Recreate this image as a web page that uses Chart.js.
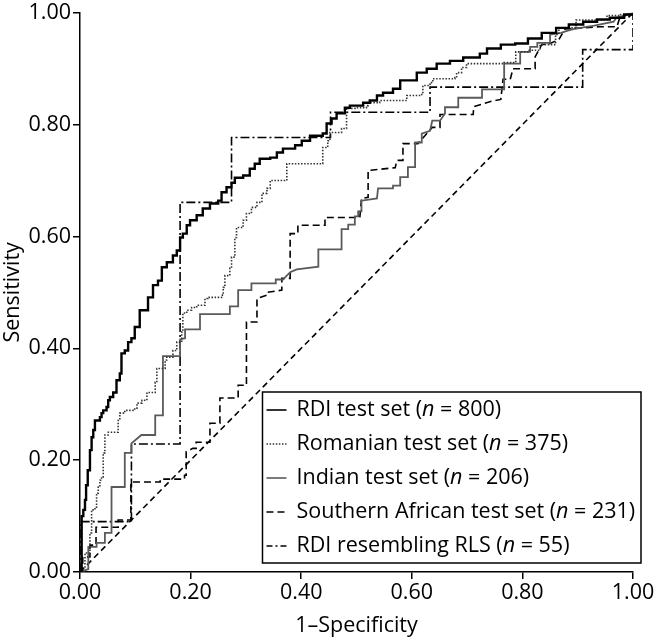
<!DOCTYPE html>
<html>
<head>
<meta charset="utf-8">
<script src="https://cdn.jsdelivr.net/npm/chart.js@4/dist/chart.umd.min.js"></script>
<style>
  html, body { margin: 0; padding: 0; background: #fff; }
  #wrap { width: 656px; height: 640px; position: relative; }
</style>
</head>
<body>
<div id="wrap"><canvas id="c" width="656" height="640"></canvas></div>
<script>
// ---- Data (x = 1-Specificity, y = Sensitivity) ----
const seriesNames = ['RDI test set', 'Romanian test set', 'Indian test set', 'Southern African test set', 'RDI resembling RLS'];
const seriesN = [800, 375, 206, 231, 55];
const tickValues = [0, 0.2, 0.4, 0.6, 0.8, 1.0];

const rdiPoints = [[0,0],[0.003,0.100],[0.006,0.111],[0.009,0.129],[0.011,0.155],[0.014,0.182],[0.018,0.218],[0.021,0.241],[0.024,0.254],[0.027,0.271],[0.036,0.277],[0.039,0.284],[0.042,0.289],[0.048,0.295],[0.051,0.307],[0.054,0.313],[0.060,0.321],[0.066,0.343],[0.072,0.355],[0.075,0.391],[0.081,0.396],[0.087,0.411],[0.093,0.418],[0.099,0.438],[0.108,0.468],[0.123,0.491],[0.132,0.513],[0.141,0.521],[0.148,0.545],[0.157,0.554],[0.168,0.566],[0.175,0.575],[0.181,0.598],[0.186,0.605],[0.193,0.620],[0.199,0.629],[0.211,0.638],[0.222,0.650],[0.235,0.659],[0.250,0.664],[0.256,0.679],[0.265,0.688],[0.274,0.696],[0.280,0.705],[0.295,0.709],[0.307,0.721],[0.316,0.730],[0.325,0.739],[0.344,0.741],[0.356,0.750],[0.367,0.757],[0.389,0.763],[0.401,0.771],[0.416,0.780],[0.439,0.784],[0.446,0.802],[0.455,0.811],[0.464,0.820],[0.479,0.830],[0.488,0.834],[0.512,0.839],[0.524,0.843],[0.537,0.852],[0.548,0.857],[0.566,0.864],[0.579,0.879],[0.593,0.879],[0.609,0.893],[0.627,0.900],[0.645,0.909],[0.669,0.914],[0.693,0.920],[0.723,0.927],[0.736,0.936],[0.761,0.943],[0.787,0.945],[0.810,0.954],[0.835,0.964],[0.861,0.973],[0.884,0.979],[0.910,0.984],[0.935,0.988],[0.958,0.991],[0.984,0.997],[1,1]];

const romanianPoints = [[0,0],[0.005,0.009],[0.009,0.034],[0.018,0.070],[0.021,0.111],[0.027,0.116],[0.030,0.141],[0.033,0.152],[0.036,0.164],[0.039,0.170],[0.042,0.213],[0.045,0.245],[0.051,0.250],[0.069,0.271],[0.072,0.284],[0.081,0.289],[0.099,0.293],[0.103,0.302],[0.112,0.307],[0.121,0.321],[0.136,0.339],[0.139,0.364],[0.154,0.379],[0.157,0.384],[0.168,0.396],[0.175,0.411],[0.184,0.429],[0.186,0.463],[0.193,0.468],[0.202,0.473],[0.211,0.477],[0.226,0.489],[0.231,0.491],[0.256,0.495],[0.259,0.509],[0.262,0.530],[0.271,0.543],[0.274,0.563],[0.280,0.598],[0.283,0.616],[0.295,0.629],[0.301,0.641],[0.310,0.652],[0.320,0.661],[0.329,0.677],[0.338,0.686],[0.344,0.700],[0.374,0.700],[0.374,0.730],[0.434,0.730],[0.439,0.759],[0.448,0.771],[0.452,0.786],[0.473,0.793],[0.482,0.813],[0.482,0.829],[0.500,0.830],[0.518,0.834],[0.521,0.839],[0.542,0.843],[0.588,0.843],[0.591,0.852],[0.618,0.855],[0.620,0.870],[0.633,0.875],[0.638,0.882],[0.678,0.884],[0.681,0.893],[0.690,0.902],[0.699,0.909],[0.767,0.911],[0.788,0.930],[0.810,0.933],[0.832,0.943],[0.860,0.961],[0.866,0.973],[0.897,0.987],[0.946,0.987],[0.953,0.995],[0.976,0.997],[1,1]];

const indianPoints = [[0,0],[0.015,0.005],[0.015,0.045],[0.030,0.045],[0.030,0.052],[0.045,0.052],[0.045,0.070],[0.057,0.070],[0.057,0.152],[0.081,0.152],[0.081,0.213],[0.093,0.213],[0.093,0.230],[0.111,0.245],[0.136,0.245],[0.136,0.280],[0.150,0.280],[0.150,0.386],[0.181,0.386],[0.181,0.416],[0.190,0.418],[0.190,0.434],[0.217,0.434],[0.217,0.461],[0.271,0.461],[0.271,0.475],[0.286,0.475],[0.286,0.504],[0.310,0.504],[0.310,0.516],[0.354,0.516],[0.354,0.523],[0.367,0.523],[0.380,0.536],[0.392,0.541],[0.431,0.546],[0.431,0.577],[0.473,0.577],[0.473,0.613],[0.485,0.613],[0.485,0.621],[0.497,0.621],[0.497,0.636],[0.503,0.636],[0.503,0.645],[0.509,0.645],[0.509,0.664],[0.537,0.668],[0.539,0.686],[0.566,0.686],[0.566,0.691],[0.579,0.691],[0.579,0.706],[0.593,0.706],[0.593,0.724],[0.606,0.724],[0.606,0.768],[0.618,0.768],[0.618,0.784],[0.633,0.789],[0.637,0.807],[0.651,0.807],[0.660,0.820],[0.660,0.831],[0.684,0.831],[0.684,0.848],[0.727,0.848],[0.727,0.863],[0.767,0.863],[0.767,0.909],[0.796,0.909],[0.796,0.930],[0.814,0.930],[0.814,0.939],[0.827,0.939],[0.827,0.946],[0.850,0.946],[0.850,0.961],[0.870,0.964],[0.882,0.968],[0.894,0.971],[0.930,0.977],[0.965,0.984],[0.970,0.991],[1,1]];

const southernAfricanPoints = [[0,0],[0.005,0],[0.005,0.027],[0.018,0.027],[0.018,0.048],[0.029,0.048],[0.029,0.080],[0.069,0.080],[0.069,0.093],[0.092,0.093],[0.092,0.161],[0.145,0.161],[0.145,0.166],[0.189,0.166],[0.189,0.173],[0.192,0.173],[0.192,0.215],[0.204,0.221],[0.210,0.221],[0.210,0.232],[0.235,0.232],[0.235,0.266],[0.253,0.266],[0.253,0.311],[0.286,0.311],[0.286,0.334],[0.301,0.334],[0.301,0.447],[0.320,0.447],[0.320,0.489],[0.338,0.495],[0.338,0.500],[0.365,0.504],[0.365,0.525],[0.380,0.525],[0.380,0.605],[0.394,0.605],[0.394,0.620],[0.443,0.620],[0.443,0.634],[0.506,0.634],[0.509,0.668],[0.521,0.670],[0.521,0.718],[0.570,0.723],[0.573,0.736],[0.584,0.736],[0.584,0.766],[0.611,0.766],[0.637,0.795],[0.651,0.795],[0.651,0.818],[0.711,0.818],[0.712,0.832],[0.741,0.841],[0.761,0.845],[0.765,0.881],[0.778,0.881],[0.783,0.900],[0.823,0.900],[0.823,0.921],[0.835,0.943],[0.850,0.945],[0.866,0.952],[0.877,0.971],[0.940,0.975],[0.971,0.975],[0.976,0.991],[1,1]];

const rlsPoints = [[0,0],[0,0.090],[0.093,0.090],[0.093,0.229],[0.181,0.229],[0.181,0.661],[0.274,0.661],[0.274,0.777],[0.453,0.777],[0.453,0.822],[0.633,0.822],[0.633,0.867],[0.909,0.867],[0.909,0.934],[1,0.934],[1,1]];

const chancePoints = [[0,0],[1,1]];

const FONT = '"Open Sans", "Noto Sans", sans-serif';
const AXIS_FONT = 21.5;
const LEGEND_FONT = 21.5;
const toXY = pts => pts.map(p => ({x: p[0], y: p[1]}));

const styles = [
  {color: '#000000', width: 2.4, dash: [], stepped: 'before'},
  {color: '#333333', width: 1.6, dash: [1.5, 1.6], stepped: 'before'},
  {color: '#5a5a5a', width: 1.8, dash: [], stepped: false},
  {color: '#000000', width: 1.6, dash: [7, 4], stepped: false},
  {color: '#000000', width: 1.6, dash: [9, 3, 2, 3], stepped: false}
];
const seriesPoints = [rdiPoints, romanianPoints, indianPoints, southernAfricanPoints, rlsPoints];

const datasets = seriesPoints.map((pts, i) => ({
  label: seriesNames[i],
  data: toXY(pts),
  showLine: true,
  borderColor: styles[i].color,
  borderWidth: styles[i].width,
  borderDash: styles[i].dash,
  stepped: styles[i].stepped,
  pointRadius: 0,
  fill: false,
  tension: 0
}));
datasets.push({
  label: 'chance',
  data: toXY(chancePoints),
  showLine: true,
  borderColor: '#000000',
  borderWidth: 1.6,
  borderDash: [6, 4],
  pointRadius: 0,
  fill: false
});

const boxLegend = {
  id: 'boxLegend',
  afterDraw(chart) {
    const {ctx, chartArea: a} = chart;
    const left = a.left + 0.33 * (a.right - a.left);
    const right = a.right + 8;
    const bottom = a.bottom - 9;
    const rowH = 34;
    const top = bottom - 171;
    ctx.save();
    ctx.fillStyle = '#fff';
    ctx.fillRect(left, top, right - left, bottom - top);
    ctx.strokeStyle = '#000';
    ctx.lineWidth = 1.5;
    ctx.setLineDash([]);
    ctx.strokeRect(left, top, right - left, bottom - top);
    for (let i = 0; i < seriesNames.length; i++) {
      const cy = top + 18 + i * rowH;
      const st = styles[i];
      ctx.beginPath();
      ctx.strokeStyle = st.color;
      ctx.lineWidth = Math.min(st.width, 1.6);
      ctx.setLineDash(st.dash.length === 4 ? [6, 3, 2, 3] : st.dash);
      ctx.moveTo(left + 4, cy);
      ctx.lineTo(left + 24, cy);
      ctx.stroke();
      ctx.setLineDash([]);
      ctx.fillStyle = '#000';
      ctx.textBaseline = 'middle';
      ctx.textAlign = 'left';
      let x = left + 34;
      const normal = LEGEND_FONT + 'px ' + FONT;
      const italic = 'italic ' + LEGEND_FONT + 'px ' + FONT;
      const parts = [[seriesNames[i] + ' (', normal], ['n', italic], [' = ' + seriesN[i] + ')', normal]];
      for (const [t, f] of parts) {
        ctx.font = f;
        ctx.fillText(t, x, cy);
        x += ctx.measureText(t).width;
      }
    }
    ctx.restore();
  }
};

new Chart(document.getElementById('c'), {
  type: 'scatter',
  data: {datasets},
  plugins: [boxLegend],
  options: {
    responsive: false,
    animation: false,
    devicePixelRatio: 1,
    layout: {padding: {top: 12, right: 23, left: 0, bottom: 0}},
    plugins: {legend: {display: false}, tooltip: {enabled: false}},
    scales: {
      x: {
        type: 'linear', min: 0, max: 1,
        afterBuildTicks: s => { s.ticks = tickValues.map(v => ({value: v})); },
        afterFit: s => { s.height = 68; },
        ticks: {color: '#000', font: {family: FONT, size: AXIS_FONT}, padding: 1, maxRotation: 0,
                callback: v => Number(v).toFixed(2)},
        grid: {display: true, drawOnChartArea: false, drawTicks: true, tickLength: 7, color: '#000', lineWidth: 1.5},
        border: {display: true, color: '#000', width: 1.5},
        title: {display: true, text: '1–Specificity', color: '#000', font: {family: FONT, size: AXIS_FONT}, padding: {top: 2, bottom: 1}}
      },
      y: {
        type: 'linear', min: 0, max: 1,
        afterBuildTicks: s => { s.ticks = tickValues.map(v => ({value: v})); },
        afterFit: s => { s.width = 80; },
        ticks: {color: '#000', font: {family: FONT, size: AXIS_FONT, lineHeight: 1.0}, padding: 2,
                callback: v => Number(v).toFixed(2)},
        grid: {display: true, drawOnChartArea: false, drawTicks: true, tickLength: 7, color: '#000', lineWidth: 1.5},
        border: {display: true, color: '#000', width: 1.5},
        title: {display: true, text: 'Sensitivity', color: '#000', font: {family: FONT, size: AXIS_FONT}, padding: {top: 0, bottom: 2}}
      }
    }
  }
});
</script>
</body>
</html>
